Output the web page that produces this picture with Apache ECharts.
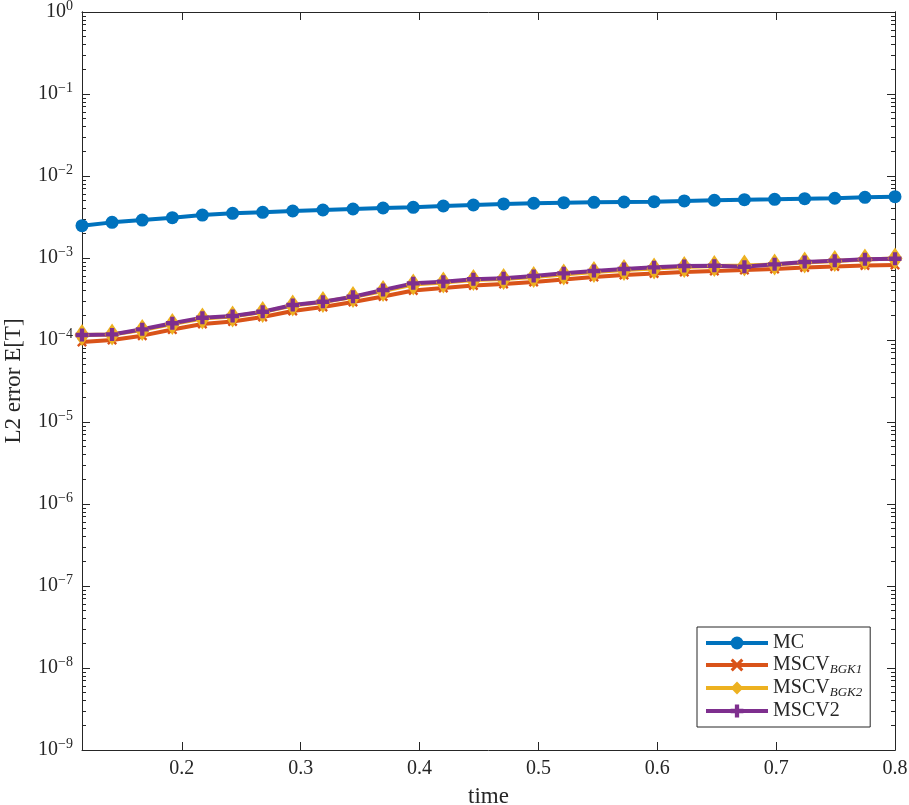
<!DOCTYPE html>
<html><head><meta charset="utf-8">
<script src="https://cdn.jsdelivr.net/npm/echarts@6/dist/echarts.min.js"></script>
<style>html,body{margin:0;padding:0;background:#fff}#c{width:909px;height:805px}</style>
</head><body><div id="c"></div>
<script>
const times = [0.1160,0.1413,0.1667,0.1920,0.2173,0.2427,0.2680,0.2933,0.3187,0.3440,0.3693,0.3947,0.4200,0.4453,0.4707,0.4960,0.5213,0.5467,0.5720,0.5973,0.6227,0.6480,0.6733,0.6987,0.7240,0.7493,0.7747,0.8000];
const mc = [2.48e-3,2.72e-3,2.90e-3,3.10e-3,3.34e-3,3.51e-3,3.61e-3,3.74e-3,3.85e-3,3.96e-3,4.07e-3,4.15e-3,4.31e-3,4.43e-3,4.56e-3,4.65e-3,4.73e-3,4.78e-3,4.82e-3,4.86e-3,4.96e-3,5.06e-3,5.14e-3,5.20e-3,5.29e-3,5.35e-3,5.50e-3,5.60e-3];
const bgk1 = [9.46e-5,1.00e-4,1.13e-4,1.34e-4,1.57e-4,1.68e-4,1.91e-4,2.26e-4,2.53e-4,2.91e-4,3.39e-4,4.02e-4,4.31e-4,4.62e-4,4.82e-4,5.10e-4,5.47e-4,5.87e-4,6.21e-4,6.47e-4,6.75e-4,6.94e-4,7.14e-4,7.34e-4,7.66e-4,7.88e-4,8.11e-4,8.22e-4];
const bgk2 = [1.15e-4,1.17e-4,1.32e-4,1.57e-4,1.83e-4,1.94e-4,2.19e-4,2.64e-4,2.91e-4,3.34e-4,3.96e-4,4.75e-4,5.03e-4,5.39e-4,5.55e-4,5.87e-4,6.29e-4,6.75e-4,7.14e-4,7.45e-4,7.77e-4,7.98e-4,8.11e-4,8.34e-4,8.82e-4,9.19e-4,9.59e-4,9.87e-4];
const mscv2 = [1.15e-4,1.17e-4,1.35e-4,1.60e-4,1.87e-4,1.96e-4,2.21e-4,2.67e-4,2.93e-4,3.37e-4,4.07e-4,4.91e-4,5.14e-4,5.50e-4,5.65e-4,6.03e-4,6.50e-4,6.94e-4,7.34e-4,7.70e-4,7.98e-4,8.05e-4,7.83e-4,8.37e-4,8.93e-4,9.27e-4,9.64e-4,9.80e-4];
const xTicks = [0.2,0.3,0.4,0.5,0.6,0.7,0.8];
const yMajor = [1e-9,1e-8,1e-7,1e-6,1e-5,1e-4,1e-3,1e-2,1e-1,1];
const seriesNames = ['MC','MSCV_BGK1','MSCV_BGK2','MSCV2'];

const yMinor = [];
for (let e = -9; e < 0; e++) for (let m = 2; m <= 9; m++) yMinor.push(m * Math.pow(10, e));

const FONT = 'Liberation Serif';
const INK = '#262626';
const pair = (arr) => times.map((t, i) => [t, arr[i]]);
const xShape = 'path://M0,2L2,0L6,4L10,0L12,2L8,6L12,10L10,12L6,8L2,12L0,10L4,6Z';
const plusShape = 'path://M4,0H8V4H12V8H8V12H4V8H0V4H4Z';

const chart = echarts.init(document.getElementById('c'), null, {renderer: 'canvas'});
const axisLine = {show: true, lineStyle: {color: INK, width: 1}};
const yLabel = {
  show: true, margin: 9,
  formatter: v => { const e = Math.round(Math.log10(v)); return '{b|10}{s|' + (e === 0 ? '0' : '\u2212' + (-e)) + '}'; },
  rich: {b: {fontFamily: FONT, fontSize: 20, lineHeight: 26, color: INK, verticalAlign: 'middle'},
         s: {fontFamily: FONT, fontSize: 14, lineHeight: 12, color: INK, verticalAlign: 'top'}},
  customValues: yMajor
};
const yBase = {type: 'log', logBase: 10, min: 1e-9, max: 1, splitLine: {show: false}};
chart.setOption({
  animation: false,
  grid: {left: 82, right: 14, top: 12, bottom: 55, containLabel: false, outerBoundsMode: 'none'},
  xAxis: [
    {type: 'value', min: times[0], max: 0.8, position: 'bottom', name: 'time', nameLocation: 'middle', nameGap: 35,
     nameTextStyle: {fontFamily: FONT, fontSize: 23, color: INK},
     axisLine: axisLine, splitLine: {show: false},
     axisTick: {show: true, inside: true, length: 8, customValues: xTicks, lineStyle: {color: INK}},
     axisLabel: {show: true, customValues: xTicks, margin: 9, fontFamily: FONT, fontSize: 20, color: INK, formatter: v => v.toFixed(1)}},
    {type: 'value', min: times[0], max: 0.8, position: 'top',
     axisLine: axisLine, splitLine: {show: false},
     axisTick: {show: true, inside: true, length: 8, customValues: xTicks, lineStyle: {color: INK}},
     axisLabel: {show: false}}
  ],
  yAxis: [
    Object.assign({}, yBase, {position: 'left', name: 'L2 error E[T]', nameLocation: 'middle', nameGap: 57,
      nameTextStyle: {fontFamily: FONT, fontSize: 23, color: INK},
      axisLine: axisLine, axisTick: {show: true, inside: true, length: 8, customValues: yMajor, lineStyle: {color: INK}},
      axisLabel: yLabel}),
    Object.assign({}, yBase, {position: 'right', axisLine: axisLine,
      axisTick: {show: true, inside: true, length: 8, customValues: yMajor, lineStyle: {color: INK}}, axisLabel: {show: false}}),
    Object.assign({}, yBase, {position: 'left', axisLine: axisLine,
      axisTick: {show: true, inside: true, length: 4, customValues: yMinor, lineStyle: {color: INK}}, axisLabel: {show: false}}),
    Object.assign({}, yBase, {position: 'right', axisLine: axisLine,
      axisTick: {show: true, inside: true, length: 4, customValues: yMinor, lineStyle: {color: INK}}, axisLabel: {show: false}})
  ],
  legend: {
    show: true, orient: 'vertical', left: 697, top: 627,
    backgroundColor: '#fff', borderColor: INK, borderWidth: 1, borderRadius: 0,
    padding: [6, 8, 6, 7], itemGap: 2, itemWidth: 62, itemHeight: 16,
    lineStyle: {width: 4},
    data: seriesNames,
    formatter: n => {
      if (n === 'MSCV_BGK1') return '{m|MSCV}{sub|BGK1}';
      if (n === 'MSCV_BGK2') return '{m|MSCV}{sub|BGK2}';
      return '{m|' + n + '}';
    },
    textStyle: {fontFamily: FONT, fontSize: 20, color: INK,
      rich: {m: {fontFamily: FONT, fontSize: 20, lineHeight: 22, color: INK, verticalAlign: 'middle'},
             sub: {fontFamily: FONT, fontStyle: 'italic', fontSize: 13, lineHeight: 13, color: INK, verticalAlign: 'bottom'}}}
  },
  series: [
    {name: 'MC', type: 'line', data: pair(mc), color: '#0072BD', symbol: 'circle', symbolSize: 13, showAllSymbol: true,
     lineStyle: {width: 4}, itemStyle: {color: '#0072BD'}, clip: false},
    {name: 'MSCV_BGK1', type: 'line', data: pair(bgk1), color: '#D95319', symbol: xShape, symbolSize: 10, showAllSymbol: true,
     lineStyle: {width: 4}, itemStyle: {color: '#D95319'}, clip: false},
    {name: 'MSCV_BGK2', type: 'line', data: pair(bgk2), color: '#EDB120', symbol: 'diamond', symbolSize: [15, 22], showAllSymbol: true,
     lineStyle: {width: 4}, itemStyle: {color: '#EDB120'}, clip: false},
    {name: 'MSCV2', type: 'line', data: pair(mscv2), color: '#7E2F8E', symbol: plusShape, symbolSize: 13, showAllSymbol: true,
     lineStyle: {width: 4}, itemStyle: {color: '#7E2F8E'}, clip: false}
  ]
});
</script></body></html>
